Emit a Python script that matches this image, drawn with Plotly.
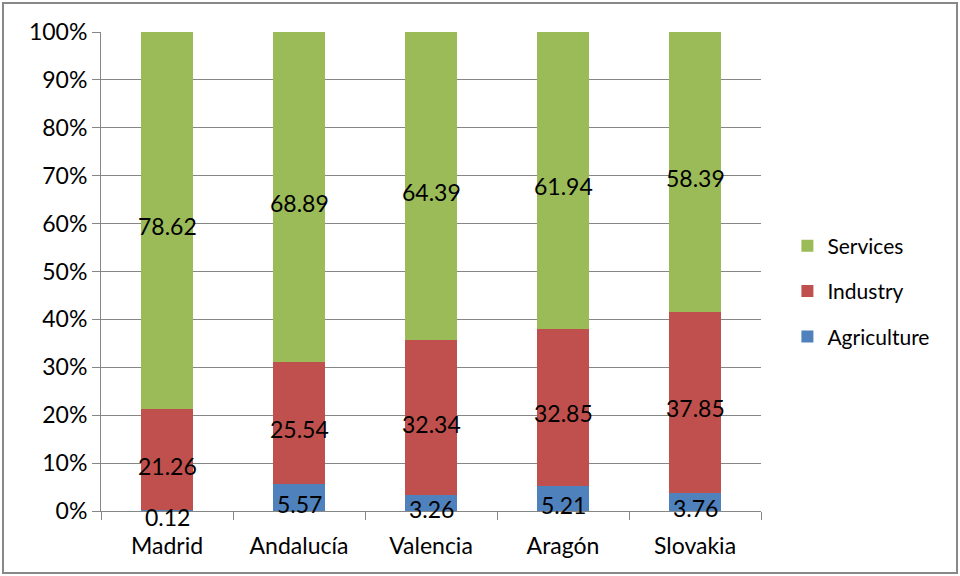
import plotly.graph_objects as go

categories = ["Madrid", "Andalucía", "Valencia", "Aragón", "Slovakia"]
agriculture = [0.12, 5.57, 3.26, 5.21, 3.76]
industry = [21.26, 25.54, 32.34, 32.85, 37.85]
services = [78.62, 68.89, 64.39, 61.94, 58.39]
tick_vals = [0, 10, 20, 30, 40, 50, 60, 70, 80, 90, 100]
tick_text = [f"{v}%" for v in tick_vals]

series = [
    ("Agriculture", agriculture, "#4F81BD"),
    ("Industry", industry, "#C0504D"),
    ("Services", services, "#9BBB59"),
]

FONT = "Lato"
fig = go.Figure()
base = [0.0] * len(categories)
annotations = []
for i, (name, vals, col) in enumerate(series):
    fig.add_trace(go.Bar(
        x=categories, y=vals, name=name, marker=dict(color=col, line=dict(width=0)),
        width=0.39, legendgroup=name, legendrank=3 - i,
    ))
    for j, v in enumerate(vals):
        annotations.append(dict(
            x=categories[j], y=base[j] + v / 2, xref="x", yref="y",
            text=f"{v:.2f}", showarrow=False, yshift=-6,
            font=dict(family=FONT, size=23, color="black"),
        ))
        base[j] += v

fig.update_layout(
    barmode="stack",
    width=960, height=576,
    margin=dict(l=101, r=199, t=32, b=65, autoexpand=False),
    plot_bgcolor="white", paper_bgcolor="white",
    font=dict(family=FONT, size=23, color="black"),
    xaxis=dict(
        showline=True, linecolor="#868686", linewidth=1,
        ticks="outside", tickson="boundaries", ticklen=8, tickcolor="#868686",
        showgrid=False, tickfont=dict(size=23), range=[-0.5, 4.5],
        ticklabelstandoff=14, automargin=False,
    ),
    yaxis=dict(
        range=[0, 100], tickvals=tick_vals, ticktext=tick_text,
        showline=True, linecolor="#868686", linewidth=1,
        ticks="outside", ticklen=8, tickcolor="#868686",
        showgrid=True, gridcolor="#868686", gridwidth=1,
        tickfont=dict(size=23), zeroline=False, automargin=False,
    ),
    legend=dict(
        x=1.04, y=0.459, xanchor="left", yanchor="middle",
        font=dict(size=21), tracegroupgap=15, traceorder="grouped",
        bgcolor="rgba(0,0,0,0)", itemwidth=30,
    ),
    annotations=annotations,
    shapes=[dict(
        type="rect", xref="paper", yref="paper",
        x0=(3 - 101) / 660, x1=(957 - 101) / 660,
        y0=(511 - 573) / 479, y1=(511 - 3) / 479,
        line=dict(color="#888888", width=2), fillcolor="rgba(0,0,0,0)", layer="below",
    )],
    showlegend=True,
)

fig.write_html("out.html", config={"displayModeBar": False},
               post_script="document.body.style.margin='0px';")
